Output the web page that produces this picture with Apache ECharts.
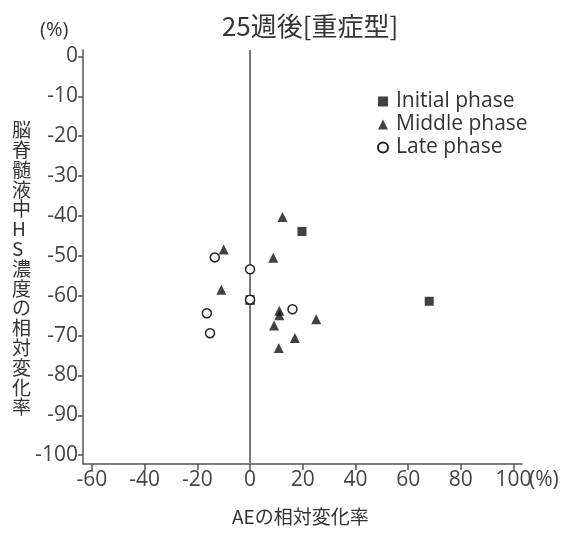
<!DOCTYPE html>
<html><head><meta charset="utf-8">
<script src="https://cdn.jsdelivr.net/npm/echarts@6/dist/echarts.min.js"></script>
<style>html,body{margin:0;padding:0;background:#fff}#c{width:571px;height:533px}</style>
</head><body><div id="c"></div>
<script>
const title = '25週後[重症型]';
const xName = 'AEの相対変化率';
const yName = '脳脊髄液中HS濃度の相対変化率';
const xTicks = [-60,-40,-20,0,20,40,60,80,100];
const yTicks = [0,-10,-20,-30,-40,-50,-60,-70,-80,-90,-100];
const initialPhase = [[19.7,-43.9],[68,-61.4],[0,-61]];
const middlePhase = [[12.3,-40.3],[-10,-48.4],[8.8,-50.5],[-10.9,-58.5],[0,-61],[11.1,-63.8],[11.1,-64.9],[25.1,-65.9],[9.1,-67.5],[17,-70.6],[10.9,-73.1]];
const latePhase = [[-13.4,-50.4],[0,-53.4],[0,-61],[-16.4,-64.4],[16.1,-63.4],[-15.2,-69.4]];
const zeroLine = [[0,1.6],[0,-102.2]];

const FONT = '"Open Sans","Noto Sans CJK JP",sans-serif';
const CJK = '"Noto Sans CJK JP",sans-serif';
const axisCol = '#555';
const chart = echarts.init(document.getElementById('c'));
chart.setOption({
  animation:false,
  backgroundColor:'#fff',
  textStyle:{fontFamily:FONT},
  grid:{left:83,right:49,top:50,bottom:69},
  title:{text:title,left:305,textAlign:'center',top:8,textStyle:{fontSize:26,fontWeight:'normal',color:'#333',fontFamily:CJK}},
  legend:{orient:'vertical',left:372,top:86,itemGap:2,itemWidth:10,itemHeight:10,
    textStyle:{fontSize:21,color:'#333',fontFamily:FONT,padding:[0,0,0,3]},
    data:['Initial phase','Middle phase','Late phase']},
  xAxis:{type:'value',min:-63.4,max:103.2,
    axisLine:{onZero:false,lineStyle:{color:axisCol,width:1.5}},
    axisTick:{show:true,length:6,lineStyle:{color:axisCol,width:1.5},customValues:xTicks},
    axisLabel:{customValues:xTicks,fontSize:21,color:'#444',margin:6,fontFamily:FONT},
    splitLine:{show:false}},
  yAxis:{type:'value',min:-102.2,max:1.6,
    axisLine:{show:true,onZero:false,lineStyle:{color:axisCol,width:1.5}},
    axisTick:{show:true,length:5,lineStyle:{color:axisCol,width:1.5},customValues:yTicks},
    axisLabel:{customValues:yTicks,fontSize:21,color:'#444',margin:5,fontFamily:FONT},
    splitLine:{show:false}},
  graphic:[
    {type:'text',left:40,top:20,style:{text:'(%)',fontSize:20,fill:'#333',fontFamily:FONT}},
    {type:'text',left:529,top:470,style:{text:'(%)',fontSize:21,fill:'#444',fontFamily:FONT}},
    {type:'text',left:232,top:507,style:{text:xName,fontSize:19,fill:'#333',fontFamily:CJK}},
    {type:'text',left:12,top:120,style:{text:yName.split('').join('\n'),fontSize:19,lineHeight:19.8,fill:'#333',fontFamily:CJK,align:'center'}}
  ],
  series:[
    {type:'line',data:zeroLine,symbol:'none',silent:true,lineStyle:{color:'#777',width:2},z:1},
    {name:'Initial phase',type:'scatter',data:initialPhase,symbol:'rect',symbolSize:9,itemStyle:{color:'#111'},z:3},
    {name:'Middle phase',type:'scatter',data:middlePhase,symbol:'triangle',symbolSize:10,itemStyle:{color:'#111'},z:4},
    {name:'Late phase',type:'scatter',data:latePhase,symbol:'circle',symbolSize:9,itemStyle:{color:'#fff',borderColor:'#222',borderWidth:1.5,opacity:1},z:5}
  ]
});
</script></body></html>
